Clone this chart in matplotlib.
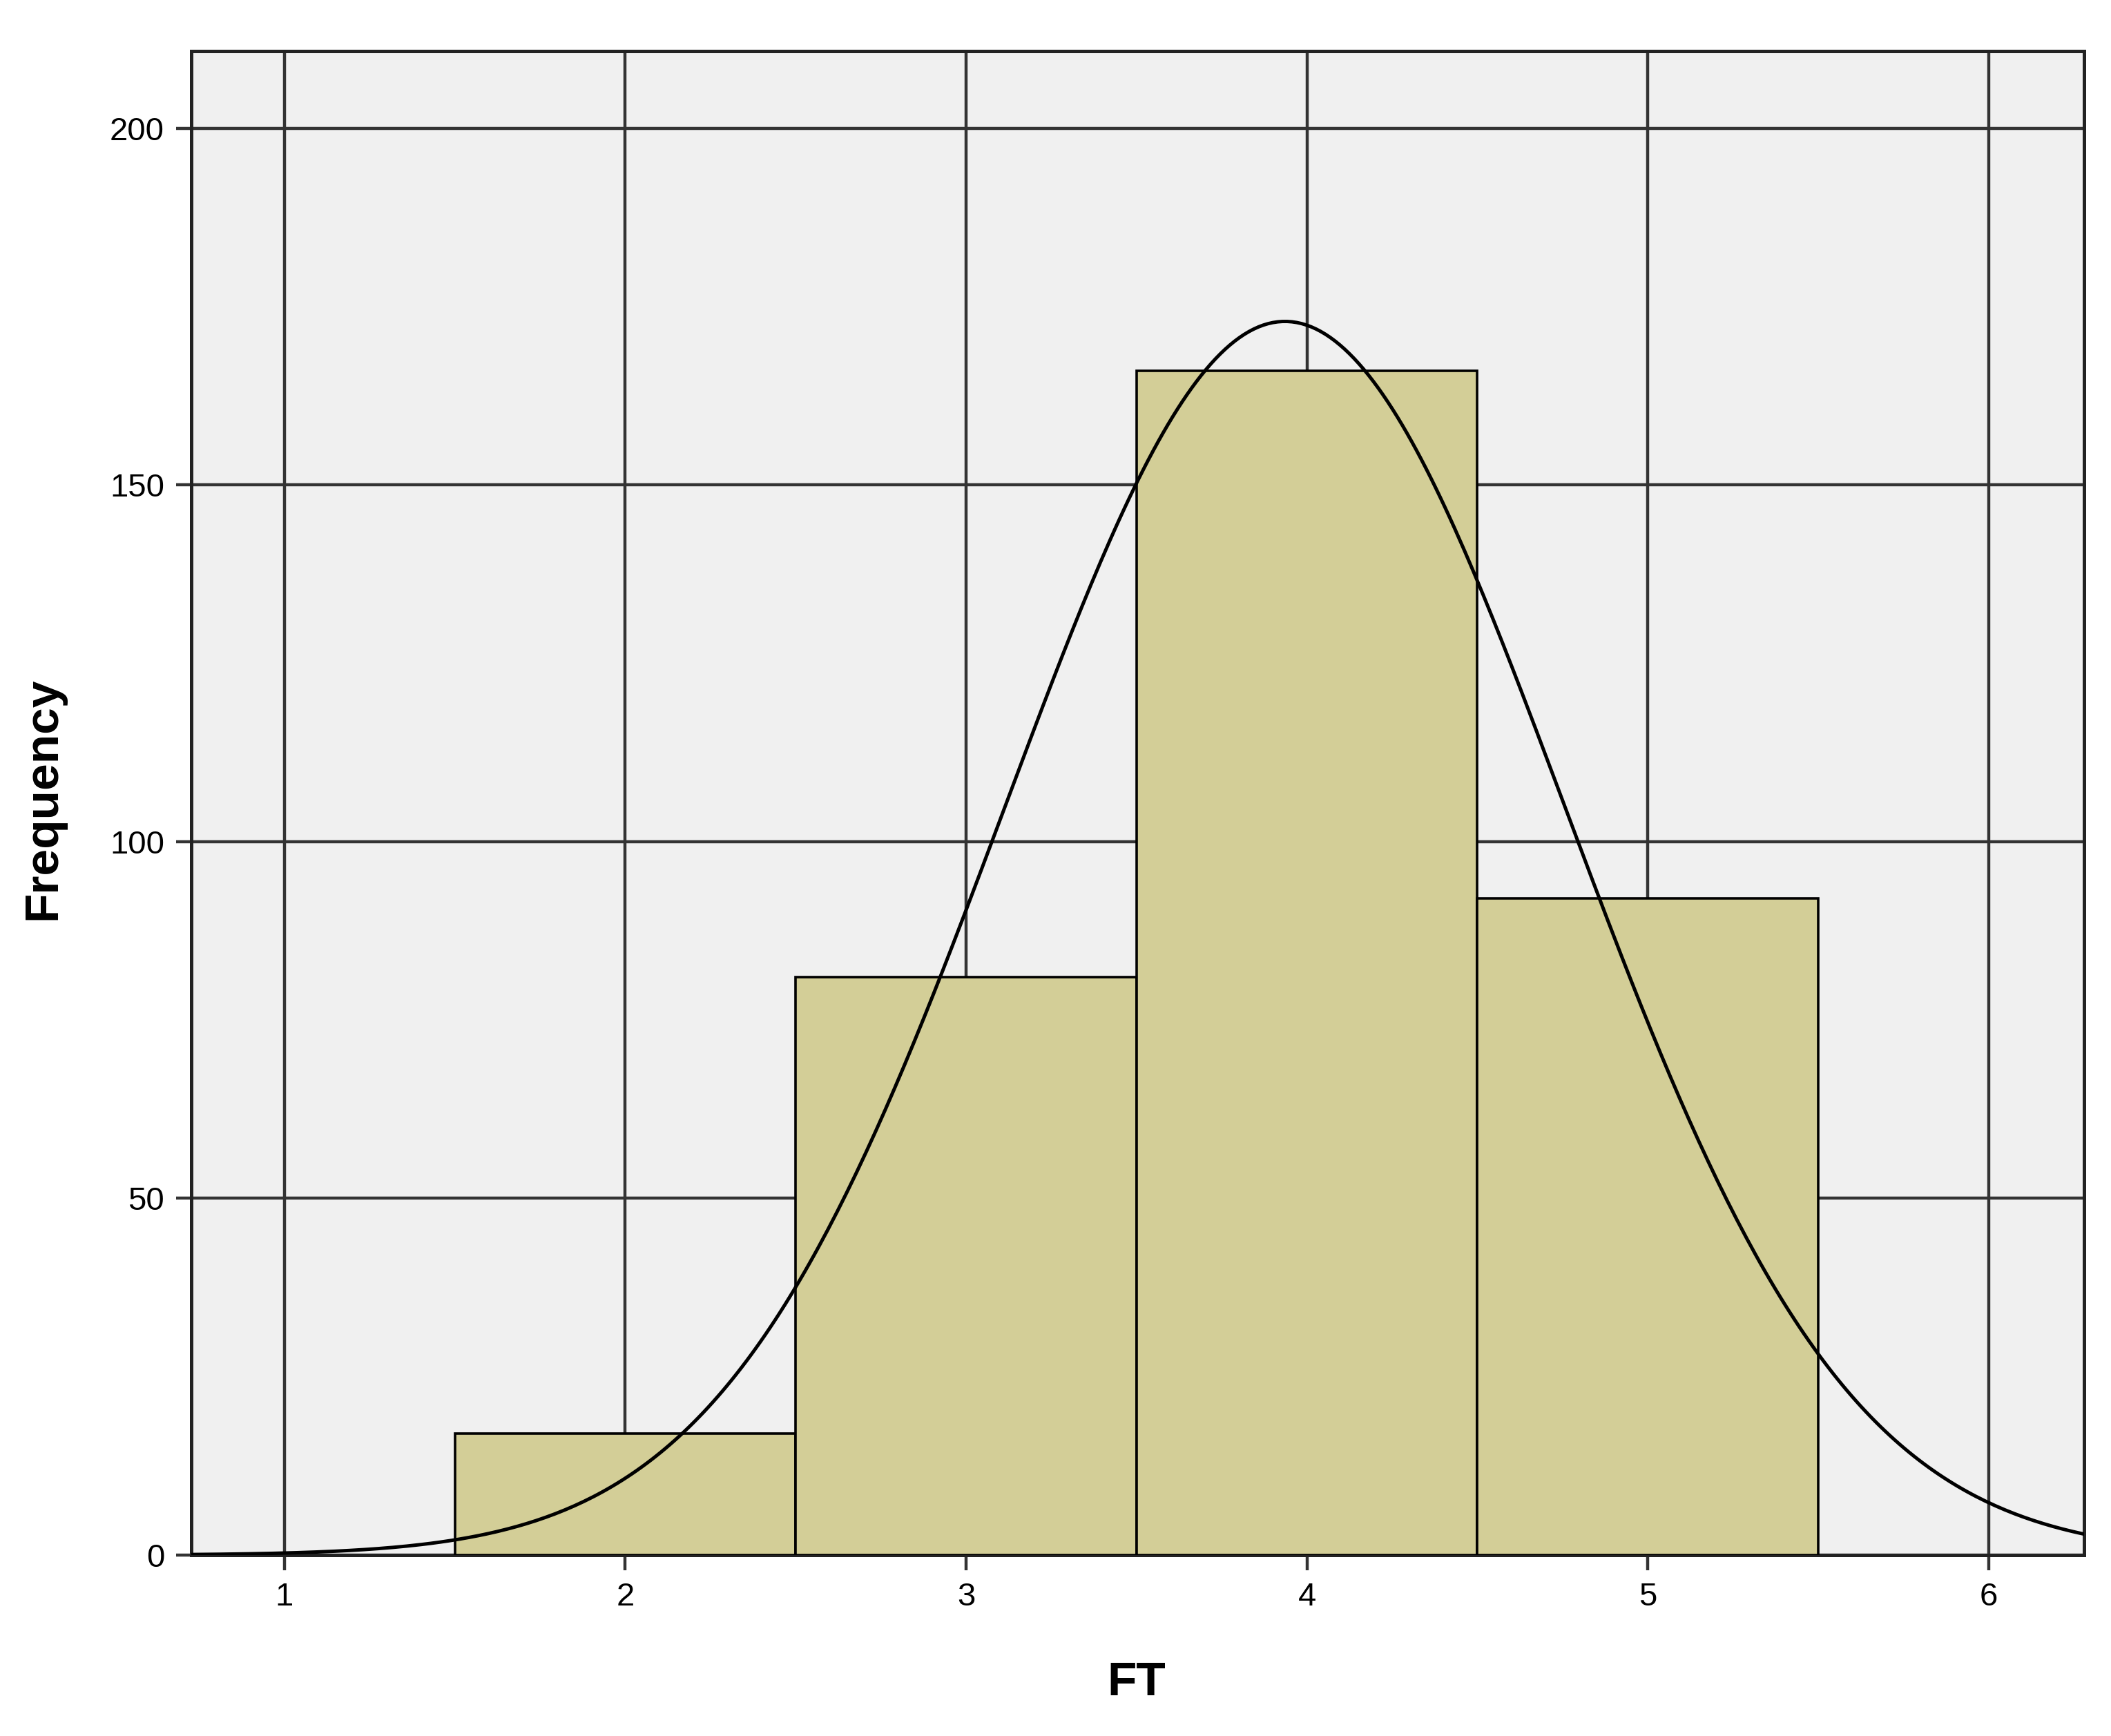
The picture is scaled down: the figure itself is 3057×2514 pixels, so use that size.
import matplotlib
matplotlib.use("Agg")
import matplotlib.pyplot as plt
import numpy as np

# FT values (1..5 scale) and their counts
ft_values = [2, 3, 4, 5]
counts = [17, 81, 166, 92]
x_ticks = [1, 2, 3, 4, 5, 6]
y_ticks = [0, 50, 100, 150, 200]

plt.rcParams['font.family'] = ['Liberation Sans', 'DejaVu Sans']

fig = plt.figure(figsize=(15.285, 12.57), dpi=200)
ax = fig.add_axes([0.0906, 0.1042, 0.8967, 0.8664])
ax.set_facecolor('#f0f0f0')

ax.bar(ft_values, counts, width=1.0, color='#d3ce97', edgecolor='black',
       linewidth=1.3, zorder=3)

# normal curve scaled to the histogram
vals = np.repeat(ft_values, counts)
n = len(vals)
mu = vals.mean()
sd = vals.std(ddof=1)
xs = np.linspace(0.7, 6.3, 400)
ys = n * 1.0 * np.exp(-0.5 * ((xs - mu) / sd) ** 2) / (sd * np.sqrt(2 * np.pi))
ax.plot(xs, ys, color='black', linewidth=1.8, zorder=4)

ax.set_xlim(0.727, 6.28)
ax.set_ylim(0, 210.8)
ax.set_xticks(x_ticks)
ax.set_yticks(y_ticks)
ax.grid(True, color='#333333', linewidth=1.6, zorder=0)
ax.set_axisbelow(True)
for s in ax.spines.values():
    s.set_color('#222222')
    s.set_linewidth(1.8)
ax.tick_params(direction='out', length=8, width=1.6, color='#333333',
               labelsize=17, pad=6)

fig.text(0.0203, 0.54, 'Frequency', rotation=90, ha='center', va='center',
         fontsize=25, fontweight='bold')
fig.text(0.5385, 0.0306, 'FT', ha='center', va='center',
         fontsize=25, fontweight='bold')

fig.savefig('out.png', dpi=200, facecolor='white')
